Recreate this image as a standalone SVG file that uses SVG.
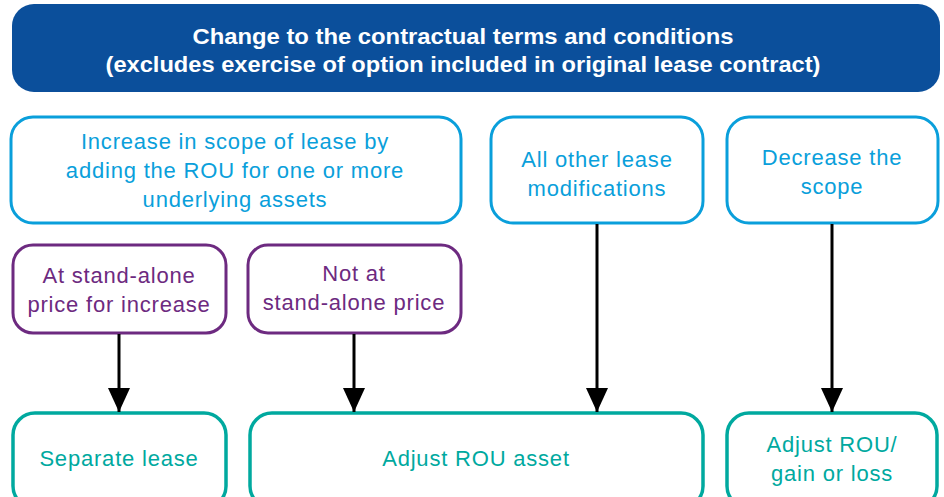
<svg xmlns="http://www.w3.org/2000/svg" width="944" height="497" viewBox="0 0 944 497">
<defs>
<style>
.t{font-family:"Liberation Sans",Arial,sans-serif;font-size:22px;letter-spacing:0.8px;text-anchor:middle}
.hd{font-family:"Liberation Sans",Arial,sans-serif;font-size:22px;font-weight:bold;fill:#fff;text-anchor:middle}
.blue rect{fill:#fff;stroke:#0A9FDB;stroke-width:3}
.blue text{fill:#0A9FDB}
.pur rect{fill:#fff;stroke:#6D2A80;stroke-width:3}
.pur text{fill:#6D2A80}
.teal rect{fill:#fff;stroke:#00A99F;stroke-width:3.5}
.teal text{fill:#00A99F}
.c{stroke:#000;stroke-width:3;fill:none;marker-end:url(#ah)}
</style>
<marker id="ah" markerUnits="userSpaceOnUse" markerWidth="24" markerHeight="22" refX="24" refY="11" orient="auto" viewBox="0 0 24 22">
<path d="M0,0 L24,11 L0,22 Z" fill="#000"/>
</marker>
</defs>
<g id="top">
<rect x="12" y="4" width="928" height="88" rx="22" fill="#0B4F9B"/>
<text class="hd" x="463" y="44" textLength="541" lengthAdjust="spacingAndGlyphs">Change to the contractual terms and conditions</text>
<text class="hd" x="463" y="72" textLength="715" lengthAdjust="spacingAndGlyphs">(excludes exercise of option included in original lease contract)</text>
</g>
<g id="increase" class="blue">
<rect x="11" y="117" width="450" height="106" rx="22"/>
<text class="t" x="235" y="149">Increase in scope of lease by</text>
<text class="t" x="235" y="178">adding the ROU for one or more</text>
<text class="t" x="235" y="207">underlying assets</text>
</g>
<g id="other" class="blue">
<rect x="491" y="117" width="212" height="106" rx="22"/>
<text class="t" x="597" y="167">All other lease</text>
<text class="t" x="597" y="196">modifications</text>
</g>
<g id="decrease" class="blue">
<rect x="727" y="117" width="211" height="106" rx="22"/>
<text class="t" x="832" y="165">Decrease the</text>
<text class="t" x="832" y="194">scope</text>
</g>
<g id="standalone" class="pur">
<rect x="13" y="245" width="213" height="88" rx="20"/>
<text class="t" x="119" y="283">At stand-alone</text>
<text class="t" x="119" y="312">price for increase</text>
</g>
<g id="notstandalone" class="pur">
<rect x="248" y="245" width="213" height="88" rx="20"/>
<text class="t" x="354" y="281">Not at</text>
<text class="t" x="354" y="310">stand-alone price</text>
</g>
<g id="separate" class="teal">
<rect x="13" y="413" width="213" height="95" rx="22"/>
<text class="t" x="119" y="466">Separate lease</text>
</g>
<g id="adjust" class="teal">
<rect x="250" y="413" width="453" height="95" rx="22"/>
<text class="t" x="476" y="466">Adjust ROU asset</text>
</g>
<g id="adjustgain" class="teal">
<rect x="727" y="413" width="210" height="95" rx="22"/>
<text class="t" x="832" y="452">Adjust ROU/</text>
<text class="t" x="832" y="481">gain or loss</text>
</g>
<g id="connectors">
<line class="c" x1="119" y1="334" x2="119" y2="412"/>
<line class="c" x1="354" y1="334" x2="354" y2="412"/>
<line class="c" x1="597" y1="224" x2="597" y2="412"/>
<line class="c" x1="832" y1="224" x2="832" y2="412"/>
</g>
</svg>
